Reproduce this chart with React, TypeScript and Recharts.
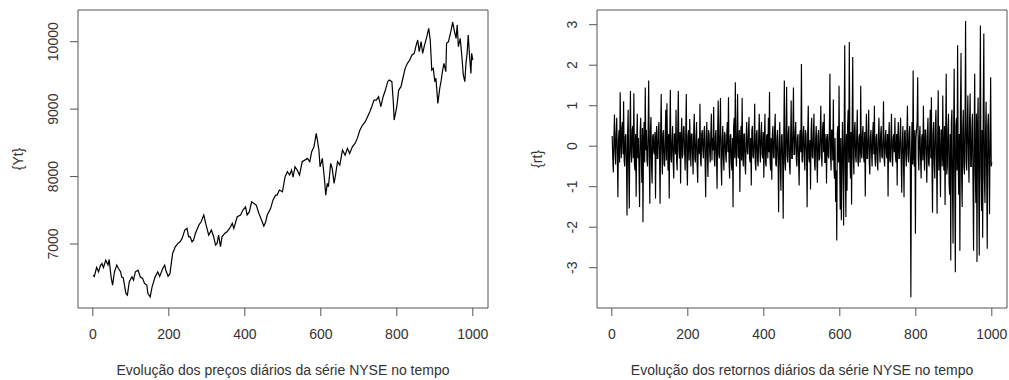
import React from 'react';
import {
  LineChart, Line, XAxis, YAxis, ReferenceArea, Label,
} from 'recharts';

const priceDays = [
  1, 4, 10, 15, 20, 24, 28, 34, 40, 43, 48, 52, 57, 63, 67, 73, 76, 80, 87, 91,
  96, 103, 107, 112, 119, 125, 131, 136, 142, 145, 151, 156, 164, 171, 176, 184, 189, 192, 198, 203,
  210, 217, 224, 229, 235, 242, 248, 252, 256, 261, 265, 270, 279, 285, 292, 297, 305, 312, 318, 323,
  327, 331, 336, 340, 347, 353, 360, 367, 371, 380, 389, 395, 402, 406, 412, 418, 424, 430, 437, 444,
  450, 455, 459, 468, 474, 481, 485, 491, 499, 506, 512, 518, 523, 527, 532, 538, 544, 551, 558, 565,
  571, 576, 582, 588, 591, 595, 598, 604, 609, 613, 617, 620, 626, 630, 635, 638, 644, 650, 657, 664,
  670, 676, 683, 690, 696, 703, 710, 717, 723, 729, 734, 740, 746, 752, 758, 764, 770, 776, 780, 787,
  791, 793, 800, 805, 811, 815, 822, 828, 834, 840, 846, 850, 855, 859, 864, 868, 872, 879, 884, 888,
  892, 896, 900, 903, 908, 913, 917, 920, 924, 929, 931, 936, 943, 947, 951, 956, 959, 962, 967, 972,
  975, 979, 982, 985, 988, 991, 995, 997, 1000,
];
const priceValues = [
  6540, 6520, 6653, 6588, 6680, 6712, 6650, 6761, 6690, 6771, 6513, 6390, 6588, 6687, 6640, 6590, 6510, 6500, 6267, 6242,
  6440, 6513, 6465, 6587, 6612, 6510, 6490, 6415, 6390, 6270, 6217, 6365, 6513, 6587, 6520, 6638, 6687, 6615, 6523, 6560,
  6860, 6958, 7010, 7030, 7083, 7206, 7231, 7107, 7110, 7033, 7057, 7157, 7280, 7330, 7429, 7305, 7132, 7206, 7107, 6984,
  7008, 7132, 6959, 7107, 7157, 7180, 7230, 7305, 7230, 7404, 7430, 7503, 7552, 7430, 7479, 7626, 7602, 7577, 7454, 7355,
  7265, 7330, 7430, 7528, 7651, 7725, 7725, 7800, 7775, 7997, 8071, 8022, 8096, 7990, 8145, 8096, 8022, 8220, 8244, 8269,
  8220, 8368, 8442, 8640, 8541, 8393, 8145, 8269, 7997, 7725, 7898, 7850, 8195, 8120, 7900, 7997, 8220, 8170, 8393, 8318,
  8418, 8343, 8442, 8492, 8566, 8690, 8764, 8813, 8887, 8961, 9036, 9135, 9135, 9184, 9036, 9184, 9283, 9407, 9432, 9407,
  9086, 8838, 9036, 9283, 9333, 9432, 9605, 9679, 9729, 9803, 9827, 9926, 10025, 9852, 10000, 9827, 9926, 10074, 10198, 10025,
  9580, 9605, 9407, 9457, 9086, 9308, 9432, 9555, 9679, 9555, 9976, 10000, 10173, 10290, 10173, 10049, 10248, 9926, 10049, 9728,
  9506, 9407, 9679, 9827, 10099, 9827, 9530, 9827, 9728,
];

// Retornos diários, um valor a cada 1,5 dia a partir do dia 1
const returnValues = [
  0.25, -0.3, -0.65, 0.2, 0.78, -0.1, -0.45, 0.35, 0.7, -0.25, -1.26, 0.15, 0.4, -0.4, 1.33, 0.1, -0.3, 0.45, 0.6, -0.2,
  1.11, -0.35, -0.5, 0.25, 0.3, -0.4, -1.71, 0.3, 0.9, -0.55, -1.54, 0.2, 1.36, -0.15, -0.4, 0.4, 0.5, -0.3, 1.31, -0.45,
  -0.6, 0.3, -1.25, 0.1, 0.8, -0.3, 0.2, -0.5, -1.5, 0.35, 0.7, -0.2, -0.9, 0.45, -1.88, 0.15, 0.6, -0.4, 1.45, -0.1,
  0.4, -0.35, -0.5, 0.3, 1.62, -0.2, -1.42, 0.4, 0.72, -0.45, -0.92, 0.25, 0.3, -0.15, -0.2, 0.35, -1.29, 0.2, 0.5, -0.3,
  -0.3, 0.4, 0.6, -0.25, -1.42, 0.35, 1.29, -0.1, -0.7, 0.3, 0.4, -0.45, -0.5, 0.2, 0.9, -0.35, 1.06, 0.1, -0.6, 0.3,
  -1.29, 0.25, 1.39, -0.3, -0.4, 0.15, 0.5, -0.4, -0.8, 0.3, 0.3, -0.2, 0.9, -0.35, -0.6, 0.4, 1.36, -0.1, -0.3, 0.35,
  -0.92, 0.2, 0.7, -0.3, -0.2, 0.45, 0.5, -0.15, -0.6, 0.3, 1.29, -0.4, -0.97, 0.25, 0.4, -0.35, 0.67, 0.1, -0.5, 0.3,
  0.3, -0.25, -0.7, 0.4, 0.8, -0.3, -0.4, 0.2, 0.6, -0.45, -0.9, 0.15, 0.2, -0.2, 1.05, -0.35, -0.5, 0.3, 0.4, -0.1,
  -0.3, 0.35, 0.5, -0.4, -1.26, 0.2, 0.6, -0.25, -0.76, 0.4, 0.3, -0.15, -0.4, 0.3, 0.8, -0.35, 0.2, -0.1, 0.97, -0.3,
  -0.5, 0.25, 0.4, -0.3, -1.05, 0.35, 1.13, -0.2, -0.3, 0.4, 1.19, -0.45, -0.97, 0.15, 0.5, -0.3, -0.6, 0.35, 0.3, -0.2,
  -0.4, 0.3, 0.6, -0.15, 1.21, -0.35, -0.8, 0.25, 0.3, -0.4, -0.6, 0.2, -1.51, 0.45, 0.7, -0.3, 1.58, -0.1, -0.5, 0.35,
  1.29, -0.25, -0.3, 0.4, -1.13, 0.1, 0.5, -0.35, 1.19, -0.2, -0.5, 0.3, 0.3, -0.45, -0.7, 0.25, 0.6, -0.15, -0.2, 0.35,
  0.72, -0.3, -0.4, 0.2, -0.97, 0.4, 0.5, -0.25, -0.3, 0.15, 1.05, -0.4, -0.6, 0.3, 0.4, -0.35, -0.5, 0.25, 0.8, -0.1,
  -0.4, 0.3, 0.6, -0.2, -0.3, 0.35, -0.78, 0.15, 0.8, -0.4, -0.5, 0.25, 0.3, -0.3, 0.7, -0.15, 1.34, -0.35, -0.6, 0.2,
  -0.83, 0.3, 0.5, -0.25, -0.3, 0.4, 0.8, -0.45, -0.5, 0.2, 0.4, -0.35, -1.63, 0.1, 0.6, -0.5, -1.1, 0.25, 0.3, -0.3,
  -1.79, 0.2, 1.62, -0.4, -0.6, 0.35, 1.46, -0.25, -0.4, 0.3, 0.5, -0.45, -0.7, 0.15, 1.13, -0.3, -0.3, 0.4, 1.45, -0.2,
  -0.2, 0.35, 0.6, -0.3, -0.5, 0.2, 0.3, -0.4, -0.97, 0.25, 0.4, -0.15, 2.03, -0.35, -0.4, 0.3, 0.5, -0.25, -0.6, 0.4,
  0.3, -0.2, -1.51, 0.35, 1.0, -0.3, -0.4, 0.15, -1.07, 0.4, 0.7, -0.25, -0.3, 0.3, 0.8, -0.45, -0.6, 0.2, 0.5, -0.3,
  -0.9, 0.25, 0.4, -0.35, -0.3, 0.3, 1.0, -0.2, -0.5, 0.4, 0.6, -0.15, 0.8, -0.4, -0.4, 0.3, -0.92, 0.15, 0.3, -0.25,
  -0.3, 0.35, 1.79, -0.2, -0.6, 0.4, 0.4, -0.35, 1.15, -0.5, -0.8, 0.2, -1.38, -0.6, -2.33, 0.3, 0.5, -0.4, 1.49, -0.3,
  -1.56, 0.2, -1.83, -0.5, 0.6, -0.3, -1.96, 0.4, 2.49, -0.6, -1.75, 0.3, -1.1, 0.5, 0.9, -0.4, 2.57, -0.2, -0.8, 0.35,
  -1.44, 0.5, 2.2, -0.3, -0.7, 0.4, 0.6, -0.25, -0.4, 0.3, 0.9, -0.35, -0.5, 0.2, 0.3, -0.4, 1.49, -0.15, -0.3, 0.3,
  0.5, -0.25, -0.4, 0.35, -1.24, 0.1, 0.8, -0.3, -0.3, 0.25, 0.9, -0.4, -0.7, 0.2, 0.4, -0.15, -0.5, 0.3, 0.6, -0.2,
  1.0, -0.3, -0.5, 0.2, 0.3, -0.35, -0.6, 0.25, 0.7, -0.1, -0.4, 0.3, 0.5, -0.25, -0.3, 0.15, 1.11, -0.3, -0.5, 0.2,
  0.4, -0.2, -0.3, 0.3, -1.24, 0.15, 0.6, -0.35, -0.4, 0.25, 0.8, -0.3, -0.5, 0.2, 0.3, -0.15, 0.7, -0.25, -0.4, 0.3,
  -0.97, 0.2, 0.6, -0.3, -0.3, 0.25, 0.7, -0.4, -1.15, 0.1, 0.5, -0.3, -1.26, 0.35, 0.4, -0.2, -0.5, 0.3, 1.0, -0.25,
  -0.4, 0.3, 0.5, -0.35, -3.73, -0.2, 0.6, -0.45, 1.87, -0.3, -0.5, 0.4, -2.16, 0.2, 0.4, 0.6, 1.7, -0.3, -0.6, 0.25,
  0.5, -0.3, -0.8, 0.2, 0.3, -0.35, 1.0, -0.15, -0.6, 0.4, 0.4, -0.25, -0.9, 0.3, 0.7, -0.4, -0.5, 0.2, 0.9, -0.3,
  1.21, -0.5, -1.64, 0.3, 0.6, -0.4, -0.8, 0.5, 0.9, -0.3, -1.67, 0.2, 1.38, -0.6, 0.5, -0.2, -1.26, 0.4, 0.4, -0.5,
  1.25, -0.3, -0.6, 0.5, -1.45, 0.2, 1.79, -0.7, -0.5, 0.4, 0.8, -0.9, -1.2, 0.3, -2.82, 0.6, 0.9, -1.0, -2.4, 0.4,
  1.91, -0.8, -3.11, 0.5, 0.7, -0.6, 2.49, -0.4, -1.2, 0.3, -2.58, 0.9, 2.3, -0.7, -1.5, 0.4, 0.9, -0.5, -0.7, 0.6,
  3.09, -0.4, -0.6, 0.5, 1.25, -0.3, -0.9, 0.6, 1.3, -0.5, -0.5, 0.4, 0.8, -0.9, -2.58, 0.3, 1.79, -0.6, -1.4, 0.8,
  -2.86, 0.5, 1.2, -0.9, -2.7, 0.7, 2.98, -0.6, -1.6, 0.4, -2.26, 1.0, 2.78, -0.8, -1.4, 0.3, 1.1, -0.7, -2.53, 0.5,
  0.8, -0.4, -1.68, 0.3, 1.7, -0.5, -0.4,
];

const xTicks = [0, 200, 400, 600, 800, 1000];
const priceTicks = [7000, 8000, 9000, 10000];
const returnTicks = [-3, -2, -1, 0, 1, 2, 3];

const priceData = priceDays.map((d, i) => ({ day: d, value: priceValues[i] }));
const returnData = returnValues.map((v, i) => ({ day: 1 + 1.5 * i, value: v }));

const FONT = '"Liberation Sans", Arial, sans-serif';
const TEXT = '#333';
const FRAME = '#555';
const X_DOMAIN = [-39, 1040];

const RotTick = (props: any) => {
  const { x, y, payload } = props;
  return (
    <text x={x} y={y} transform={`rotate(-90 ${x} ${y})`} textAnchor="middle"
      fill={TEXT} fontSize={14} fontFamily={FONT}>
      {payload.value}
    </text>
  );
};

const xTitle = (text: string) => (props: any) => {
  const vb = props.viewBox;
  return (
    <text x={vb.x + vb.width / 2} y={375} textAnchor="middle" fill={TEXT} fontSize={14} fontFamily={FONT}>
      {text}
    </text>
  );
};

const yTitle = (text: string, cx: number) => (props: any) => {
  const vb = props.viewBox;
  const cy = vb.y + vb.height / 2;
  return (
    <text x={cx} y={cy} transform={`rotate(-90 ${cx} ${cy})`} textAnchor="middle"
      dominantBaseline="central" fill={TEXT} fontSize={14} fontFamily={FONT}>
      {text}
    </text>
  );
};

function Panel({ data, yDomain, yTicks, yLabel, xLabel, width, yAxisWidth, rightMargin, lineWidth }: any) {
  return (
    <LineChart width={width} height={380} data={data}
      margin={{ top: 10, right: rightMargin, left: 0, bottom: 0 }}>
      <XAxis dataKey="day" type="number" domain={X_DOMAIN} allowDataOverflow ticks={xTicks}
        axisLine={false} tickLine={{ stroke: FRAME }} tickSize={8} tickMargin={13}
        tick={{ fill: TEXT, fontSize: 14, fontFamily: FONT }} height={72} interval={0}>
        <Label content={xTitle(xLabel)} />
      </XAxis>
      <YAxis type="number" domain={yDomain} allowDataOverflow ticks={yTicks}
        axisLine={false} tickLine={{ stroke: FRAME }} tickSize={8} tickMargin={12}
        tick={<RotTick />} width={yAxisWidth} interval={0}>
        <Label content={yTitle(yLabel, 18)} />
      </YAxis>
      <ReferenceArea x1={X_DOMAIN[0]} x2={X_DOMAIN[1]} y1={yDomain[0]} y2={yDomain[1]}
        fill="none" stroke={FRAME} strokeWidth={1} ifOverflow="visible" />
      <Line type="linear" dataKey="value" stroke="#000" strokeWidth={lineWidth} dot={false}
        isAnimationActive={false} />
    </LineChart>
  );
}

export default function App() {
  return (
    <div style={{ position: 'absolute', left: 0, top: 0, width: 1009, height: 380, background: '#fff' }}>
      <div style={{ position: 'absolute', left: 0, top: 0 }}>
        <Panel data={priceData} yDomain={[6051, 10470]} yTicks={priceTicks} yLabel="{Yt}"
          xLabel="Evolução dos preços diários da série NYSE no tempo"
          width={500} yAxisWidth={78} rightMargin={12} lineWidth={1.2} />
      </div>
      <div style={{ position: 'absolute', left: 519, top: 0 }}>
        <Panel data={returnData} yDomain={[-3.995, 3.363]} yTicks={returnTicks} yLabel="{rt}"
          xLabel="Evolução dos retornos diários da série NYSE no tempo"
          width={490} yAxisWidth={78} rightMargin={2} lineWidth={1.15} />
      </div>
    </div>
  );
}
